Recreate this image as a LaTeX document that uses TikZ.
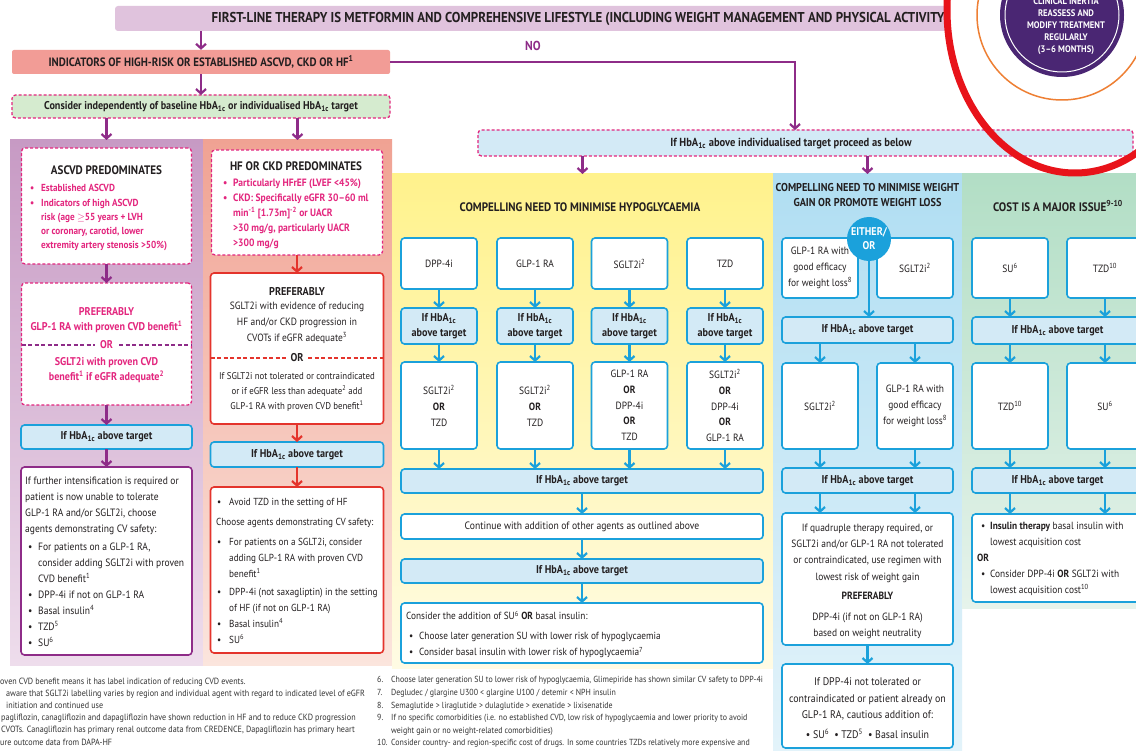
\documentclass[tikz,border=0pt]{standalone}
\usepackage{fontspec}
\setmainfont{PT Sans}[FakeStretch=0.9]
\usetikzlibrary{arrows.meta,calc}
\definecolor{cTxt}{HTML}{231F20}
\definecolor{cBanner}{HTML}{E0C3DD}
\definecolor{cPur}{HTML}{8E2C88}
\definecolor{cSalmon}{HTML}{F29C96}
\definecolor{cGreenBox}{HTML}{D5EBCF}
\definecolor{cMag}{HTML}{E3267E}
\definecolor{cBlue}{HTML}{1BA1DB}
\definecolor{cLBlue}{HTML}{D3EAF6}
\definecolor{cRed}{HTML}{E4342C}
\definecolor{cAtop}{HTML}{C79AC4}
\definecolor{cAbot}{HTML}{EEDDEC}
\definecolor{cBtop}{HTML}{F0A293}
\definecolor{cBbot}{HTML}{FBE5DD}
\definecolor{cYtop}{HTML}{FFF28C}
\definecolor{cYbot}{HTML}{FFFBE4}
\definecolor{cCtop}{HTML}{B0DEF2}
\definecolor{cCbot}{HTML}{E3F3FA}
\definecolor{cGtop}{HTML}{B2DEC5}
\definecolor{cGbot}{HTML}{E6F3EB}
\definecolor{cDark}{HTML}{4A2673}
\definecolor{cOrange}{HTML}{EE7F33}
\definecolor{cRing}{HTML}{E8131A}
\definecolor{cFoot}{HTML}{333333}
\newcommand\hba{HbA\textsubscript{1c}}
\newcommand\sups[1]{\textsuperscript{#1}}
\newcommand\bul[1][11pt]{\makebox[#1][l]{\textbullet}}
\newcommand\indt[1][11pt]{\hspace*{#1}}
\newcommand\fsz[2]{\fontsize{#1}{#2}\selectfont}
\newcommand\fsN{\fontsize{10.5}{16}\selectfont}
\newcommand\fsB{\fontsize{11.3}{15}\selectfont\bfseries}
\newcommand\fsT{\fontsize{12.3}{15}\selectfont\bfseries}
\newcommand\fsBan{\fontsize{14.3}{16}\selectfont\bfseries}
\newcommand\fsInd{\fontsize{12.1}{14}\selectfont\bfseries}
\newcommand\fsCons{\fontsize{11.3}{13}\selectfont\bfseries}
\newcommand\fsNo{\fontsize{13}{15}\selectfont\bfseries}
\newcommand\fsCirc{\fontsize{9.5}{12}\selectfont\bfseries}
\newcommand\fsE{\fontsize{11.2}{14}\selectfont\bfseries}
\tikzset{
  txt/.style={inner sep=0pt, align=center},
  box/.style={draw, rounded corners=3.5pt, line width=1.6pt, fill=white, inner sep=0pt, outer sep=0pt, align=center},
  hbox/.style={box, draw=cBlue, fill=cLBlue, font=\fsB},
  wbox/.style={box, draw=cBlue},
  dbox/.style={box, draw=cMag, dash pattern=on 3pt off 2pt, line width=1.3pt},
  arrowbase/.style={line width=2.4pt, -{Straight Barb[length=4.5pt,width=10pt,line width=2.2pt]}},
  aP/.style={arrowbase, draw=cPur},
  aB/.style={arrowbase, draw=cBlue},
  aR/.style={arrowbase, draw=cRed},
  colbg/.style={inner sep=0pt, outer sep=0pt, draw=none},
}
\begin{document}
\begin{tikzpicture}[x=1pt,y=-1pt,font=\fsN,text=cTxt]
\clip (0,0) rectangle (1136,751);
\fill[white] (0,0) rectangle (1136,751);

% ---------- banner and callout
\node[fill=cBanner, rounded corners=3pt, minimum width=1040, minimum height=25, inner sep=0pt] (banner) at (635,18.5) {};
\begin{scope}
  \clip (900,0) rectangle (1136,40);
  \fill[white] (1075,10) ellipse [x radius=128, y radius=163];
\end{scope}
\node[txt, font=\fsBan] (bannerT) at (578,18.5) {FIRST-LINE THERAPY IS METFORMIN AND COMPREHENSIVE LIFESTYLE (INCLUDING WEIGHT MANAGEMENT AND PHYSICAL ACTIVITY};
\draw[cOrange, line width=1.5pt] (1062,15) circle [radius=85];
\node[circle, fill=cDark, minimum size=124, inner sep=0pt] (clin) at (1062,15) {};
\draw[white, line width=1pt] (clin.center) circle [radius=57];
\node[txt, text=white, font=\fsCirc] (clinT) at (1066,26) {CLINICAL INERTIA\\REASSESS AND\\MODIFY TREATMENT\\REGULARLY\\(3--6 MONTHS)};

% ---------- top flow
\node[fill=cSalmon, rounded corners=2pt, minimum width=378, minimum height=24, inner sep=0pt, font=\fsInd] (ind) at (201,62) {INDICATORS OF HIGH-RISK OR ESTABLISHED ASCVD, CKD OR HF\sups{1}};
\draw[aP] (banner.south -| ind.north) -- (ind.north);
\node[txt, text=cPur, font=\fsNo] (no) at (533,46) {NO};
\coordinate (turn) at (795,62);
\node[dbox, fill=cLBlue, minimum width=655, minimum height=26] (ihb) at (805.5,143) {};
\node[txt, font=\fsz{11.7}{14}\bfseries] (ihbT) at (791,144) {If \hba\ above individualised target proceed as below};
\draw[aP] (ind.east) -- (turn) -- (turn |- ihb.north);
\node[dbox, fill=cGreenBox, minimum width=378, minimum height=23, font=\fsCons] (cons) at (201,106.5) {Consider independently of baseline \hba\ or individualised \hba\ target};
\draw[aP] (ind) -- (cons);

% ---------- column backgrounds
\node[colbg, minimum width=193, minimum height=525, top color=cAtop, bottom color=cAbot] (colA) at (106.5,402.5) {};
\node[colbg, minimum width=189, minimum height=525, top color=cBtop, bottom color=cBbot] (colB) at (297.5,402.5) {};
\node[colbg, minimum width=381, minimum height=494, top color=cYtop, bottom color=cYbot] (colY) at (582.5,421) {};
\node[colbg, minimum width=189, minimum height=577, top color=cCtop, bottom color=cCbot] (colC) at (867.5,462.5) {};
\node[colbg, minimum width=174, minimum height=434, top color=cGtop, bottom color=cGbot] (colG) at (1049,391) {};
\draw[aP] (cons.south -| colA.north) -- (colA.north);
\draw[aP] (cons.south -| colB.north) -- (colB.north);
\draw[aP] (ihb.south -| colY.north) -- (colY.north);
\draw[aP] (ihb.south -| colC.north) -- (colC.north);

% ---------- column A : ASCVD
\node[dbox, minimum width=170, minimum height=116] (asc) at (106.5,206) {};
\node[txt, font=\fsT] (ascT) at (106.5,170) {ASCVD PREDOMINATES};
\node[txt, align=left, anchor=north west, font=\fsz{10.2}{14.2}\bfseries, text=cMag] (ascL) at (30,184.5) {\bul Established ASCVD\\\bul Indicators of high ASCVD\\\indt risk (age \ensuremath{\geq}55 years + LVH\\\indt or coronary, carotid, lower\\\indt extremity artery stenosis >50\%)};
\node[dbox, minimum width=170, minimum height=122] (prA) at (106.5,344) {};
\draw[aP] (asc) -- (prA);
\node[txt, font=\fsz{11.2}{14}\bfseries, text=cMag] (prA1) at (106.5,312) {PREFERABLY};
\node[txt, font=\fsz{11.2}{14}\bfseries, text=cMag] (prA2) at (106.5,327) {GLP-1 RA with proven CVD benefit\sups{1}};
\coordinate (orA) at (106.5,345);
\draw[cPur, line width=1.2pt, dash pattern=on 4pt off 2.5pt] (prA.west |- orA) -- (prA.east |- orA);
\node[txt, fill=white, inner xsep=5pt, font=\fsz{11.2}{14}\bfseries, text=cMag] (orAT) at (orA) {OR};
\node[txt, font=\fsz{11.2}{14.5}\bfseries, text=cMag] (prA3) at (106.5,370) {SGLT2i with proven CVD\\benefit\sups{1} if eGFR adequate\sups{2}};
\node[hbox, minimum width=171, minimum height=24] (hbA) at (106.5,437) {If \hba\ above target};
\draw[aP] (prA) -- (hbA);
\node[box, draw=cPur, minimum width=171, minimum height=188] (finA) at (106.5,561) {};
\draw[aP] (hbA) -- (finA);
\node[txt, align=left, anchor=north west, font=\fsz{10.6}{16}] (finAT) at (25,477) {If further intensification is required or\\patient is now unable to tolerate\\GLP-1 RA and/or SGLT2i, choose\\agents demonstrating CV safety:\\[2pt]
\indt[3pt]\bul[10pt]For patients on a GLP-1 RA,\\
\indt[13pt]consider adding SGLT2i with proven\\
\indt[13pt]CVD benefit\sups{1}\\
\indt[3pt]\bul[10pt]DPP-4i if not on GLP-1 RA\\
\indt[3pt]\bul[10pt]Basal insulin\sups{4}\\
\indt[3pt]\bul[10pt]TZD\sups{5}\\
\indt[3pt]\bul[10pt]SU\sups{6}};

% ---------- column B : HF / CKD
\node[dbox, minimum width=171, minimum height=105] (hf) at (297,202.5) {};
\node[txt, font=\fsT] (hfT) at (296,166) {HF OR CKD PREDOMINATES};
\node[txt, align=left, anchor=north west, font=\fsz{10.6}{15}\bfseries, text=cMag] (hfL) at (223,178.5) {\bul[10pt]Particularly HFrEF (LVEF <45\%)\\\bul[10pt]CKD: Specifically eGFR 30--60 ml\\\indt[10pt]min\sups{-1} [1.73m]\sups{-2} or UACR\\\indt[10pt]>30 mg/g, particularly UACR\\\indt[10pt]>300 mg/g};
\node[box, draw=cRed, minimum width=173, minimum height=151] (prB) at (297,348.5) {};
\draw[aR] (hf) -- (prB);
\node[txt, font=\fsB] (prB1) at (297,292) {PREFERABLY};
\node[txt, anchor=north] (prB2) at (297,302) {SGLT2i with evidence of reducing\\HF and/or CKD progression in\\CVOTs if eGFR adequate\sups{3}};
\coordinate (orB) at (297,358);
\draw[cRed, line width=1.2pt, dash pattern=on 4pt off 2.5pt] (prB.west |- orB) -- (prB.east |- orB);
\node[txt, fill=white, inner xsep=5pt, font=\fsB] (orBT) at (orB) {OR};
\node[txt, anchor=north, font=\fsz{9.8}{15}] (prB3) at (297,372) {If SGLT2i not tolerated or contraindicated\\or if eGFR less than adequate\sups{2} add\\GLP-1 RA with proven CVD benefit\sups{1}};
\node[hbox, minimum width=173, minimum height=25] (hbB) at (297,454.5) {If \hba\ above target};
\draw[aR] (prB) -- (hbB);
\node[box, draw=cRed, minimum width=173, minimum height=166] (finB) at (297,570) {};
\draw[aR] (hbB) -- (finB);
\node[txt, align=left, anchor=north west, font=\fsz{10.2}{16}] (finBT) at (216,498) {\indt[1pt]\bul[12pt]Avoid TZD in the setting of HF\\[4pt]
Choose agents demonstrating CV safety:\\[4pt]
\indt[1pt]\bul[12pt]For patients on a SGLT2i, consider\\
\indt[13pt]adding GLP-1 RA with proven CVD\\
\indt[13pt]benefit\sups{1}\\[2pt]
\indt[1pt]\bul[12pt]DPP-4i (not saxagliptin) in the setting\\
\indt[13pt]of HF (if not on GLP-1 RA)\\
\indt[1pt]\bul[12pt]Basal insulin\sups{4}\\
\indt[1pt]\bul[12pt]SU\sups{6}};

% ---------- yellow column : hypoglycaemia
\node[txt, font=\fsT] (hyT) at (580,207) {COMPELLING NEED TO MINIMISE HYPOGLYCAEMIA};
\node[wbox, minimum width=76, minimum height=51] (h1) at (439,263.5) {DPP-4i};
\node[wbox, minimum width=76, minimum height=51] (h2) at (535,263.5) {GLP-1 RA};
\node[wbox, minimum width=76, minimum height=51] (h3) at (629.5,263.5) {SGLT2i\sups{2}};
\node[wbox, minimum width=76, minimum height=51] (h4) at (725,263.5) {TZD};
\foreach \i/\x in {1/439,2/535,3/629.5,4/725}{
  \node[hbox, minimum width=76, minimum height=36] (hh\i) at (\x,326) {If \hba\\above target};
  \draw[aB] (h\i) -- (hh\i);
}
\node[wbox, minimum width=76, minimum height=87] (ho1) at (439,405.5) {SGLT2i\sups{2}\\\textbf{OR}\\TZD};
\node[wbox, minimum width=76, minimum height=87] (ho2) at (535,405.5) {SGLT2i\sups{2}\\\textbf{OR}\\TZD};
\node[wbox, minimum width=76, minimum height=87, font=\fsz{10.5}{15.7}] (ho3) at (629.5,405.5) {GLP-1 RA\\\textbf{OR}\\DPP-4i\\\textbf{OR}\\TZD};
\node[wbox, minimum width=76, minimum height=87, font=\fsz{10.5}{15.7}] (ho4) at (725,405.5) {SGLT2i\sups{2}\\\textbf{OR}\\DPP-4i\\\textbf{OR}\\GLP-1 RA};
\node[hbox, minimum width=362, minimum height=24] (hw1) at (582,481) {If \hba\ above target};
\foreach \i in {1,2,3,4}{
  \draw[aB] (hh\i) -- (ho\i);
  \draw[aB] (ho\i) -- (ho\i |- hw1.north);
}
\node[wbox, minimum width=362, minimum height=25, font=\fsz{10.7}{14}] (hc) at (582,526.5) {Continue with addition of other agents as outlined above};
\node[hbox, minimum width=362, minimum height=24] (hw2) at (582,571) {If \hba\ above target};
\node[wbox, minimum width=362, minimum height=60] (hf2) at (582,633) {};
\draw[aB] (hw1) -- (hc);
\draw[aB] (hc) -- (hw2);
\draw[aB] (hw2) -- (hf2);
\node[txt, align=left, anchor=north west, font=\fsz{10.3}{16}] (hf2T) at (406,611) {Consider the addition of SU\sups{6} \textbf{OR} basal insulin:\\[4pt]
\indt[3pt]\bul[10pt]Choose later generation SU with lower risk of hypoglycaemia\\
\indt[3pt]\bul[10pt]Consider basal insulin with lower risk of hypoglycaemia\sups{7}};

% ---------- light blue column : weight
\node[txt, font=\fsz{11.4}{15}\bfseries] (wT) at (867.5,195.5) {COMPELLING NEED TO MINIMISE WEIGHT\\GAIN OR PROMOTE WEIGHT LOSS};
\node[wbox, minimum width=76, minimum height=60] (wl) at (820,268) {GLP-1 RA with\\good efficacy\\for weight loss\sups{8}};
\node[wbox, minimum width=76, minimum height=60] (wr) at (915,268) {SGLT2i\sups{2}};
\node[hbox, minimum width=171, minimum height=26] (whb1) at (867.5,330) {If \hba\ above target};
\node[circle, fill=cBlue, minimum size=44, inner sep=0pt, text=white, font=\fsE, align=center] (either) at (869,239) {EITHER/\\OR};
\draw[aB] (either) -- (either |- whb1.north);
\node[wbox, minimum width=76, minimum height=86] (wl2) at (820,406) {SGLT2i\sups{2}};
\node[wbox, minimum width=76, minimum height=86] (wr2) at (915,406) {GLP-1 RA with\\good efficacy\\for weight loss\sups{8}};
\draw[aB] (whb1.south -| wl2) -- (wl2);
\draw[aB] (whb1.south -| wr2) -- (wr2);
\node[hbox, minimum width=171, minimum height=25] (whb2) at (867.5,480.5) {If \hba\ above target};
\draw[aB] (wl2) -- (wl2 |- whb2.north);
\draw[aB] (wr2) -- (wr2 |- whb2.north);
\node[wbox, minimum width=171, minimum height=132] (wq) at (867.5,579) {};
\draw[aB] (whb2.south -| wl2) -- (wl2 |- wq.north);
\draw[aB] (whb2.south -| wr2) -- (wr2 |- wq.north);
\node[txt, anchor=north, font=\fsz{10.5}{16.3}] (wqT) at (867.5,523.5) {If quadruple therapy required, or\\SGLT2i and/or GLP-1 RA not tolerated\\or contraindicated, use regimen with\\lowest risk of weight gain\\[3pt]\textbf{PREFERABLY}\\[5pt]DPP-4i (if not on GLP-1 RA)\\based on weight neutrality};
\node[wbox, minimum width=171, minimum height=84] (wd) at (867.5,706) {};
\draw[aB] (wq) -- (wd);
\node[txt, anchor=north, font=\fsz{11}{16.5}] (wdT) at (867.5,677.5) {If DPP-4i not tolerated or\\contraindicated or patient already on\\GLP-1 RA, cautious addition of:\\[3pt]\textbullet\ SU\sups{6}\ \ \textbullet\ TZD\sups{5}\ \ \textbullet\ Basal insulin};

% ---------- green column : cost
\node[txt, font=\fsT] (gT) at (1058,206) {COST IS A MAJOR ISSUE\sups{9-10}};
\node[wbox, minimum width=76, minimum height=60] (gl) at (1010,268) {SU\sups{6}};
\node[wbox, minimum width=76, minimum height=60] (gr) at (1105,268) {TZD\sups{10}};
\node[hbox, minimum width=171, minimum height=27] (ghb1) at (1057.5,330.5) {If \hba\ above target};
\draw[aB] (gl) -- (gl |- ghb1.north);
\draw[aB] (gr) -- (gr |- ghb1.north);
\node[wbox, minimum width=76, minimum height=86] (gl2) at (1010,406) {TZD\sups{10}};
\node[wbox, minimum width=76, minimum height=86] (gr2) at (1105,406) {SU\sups{6}};
\draw[aB] (ghb1.south -| gl2) -- (gl2);
\draw[aB] (ghb1.south -| gr2) -- (gr2);
\node[hbox, minimum width=171, minimum height=25] (ghb2) at (1057.5,480.5) {If \hba\ above target};
\draw[aB] (gl2) -- (gl2 |- ghb2.north);
\draw[aB] (gr2) -- (gr2 |- ghb2.north);
\node[wbox, minimum width=171, minimum height=88] (gfin) at (1057.5,558) {};
\draw[aB] (ghb2.south -| gl2) -- (gl2 |- gfin.north);
\draw[aB] (ghb2.south -| gr2) -- (gr2 |- gfin.north);
\node[txt, align=left, anchor=north west, font=\fsz{10.4}{16}] (gfinT) at (977,521.5) {\indt[4pt]\bul[9pt]\textbf{Insulin therapy} basal insulin with\\
\indt[13pt]lowest acquisition cost\\
\textbf{OR}\\
\indt[4pt]\bul[9pt]Consider DPP-4i \textbf{OR} SGLT2i with\\
\indt[13pt]lowest acquisition cost\sups{10}};

% ---------- footnotes
\node[txt, align=left, anchor=north west, font=\fsz{9.0}{12.2}, text=cFoot] (footL) at (0,677.5) {oven CVD benefit means it has label indication of reducing CVD events.\\
\indt[6pt]aware that SGLT2i labelling varies by region and individual agent with regard to indicated level of eGFR\\
\indt[6pt]initiation and continued use\\
\indt[1pt]pagliflozin, canagliflozin and dapagliflozin have shown reduction in HF and to reduce CKD progression\\
\indt[1pt]CVOTs. Canagliflozin has primary renal outcome data from CREDENCE, Dapagliflozin has primary heart\\
ure outcome data from DAPA-HF};
\node[txt, align=left, anchor=north west, font=\fsz{8.8}{12.6}, text=cFoot] (footR) at (377,676.5) {\makebox[14pt][l]{6.}Choose later generation SU to lower risk of hypoglycaemia, Glimepiride has shown similar CV safety to DPP-4i\\
\makebox[14pt][l]{7.}Degludec / glargine U300 < glargine U100 / detemir < NPH insulin\\
\makebox[14pt][l]{8.}Semaglutide > liraglutide > dulaglutide > exenatide > lixisenatide\\
\makebox[14pt][l]{9.}If no specific comorbidities (i.e. no established CVD, low risk of hypoglycaemia and lower priority to avoid\\
\indt[14pt]weight gain or no weight-related comorbidities)\\
\makebox[14pt][l]{10.}Consider country- and region-specific cost of drugs. In some countries TZDs relatively more expensive and};

% ---------- red highlight ring
\draw[cRing, line width=7pt] (1075,10) ellipse [x radius=128, y radius=163];
\end{tikzpicture}
\end{document}
